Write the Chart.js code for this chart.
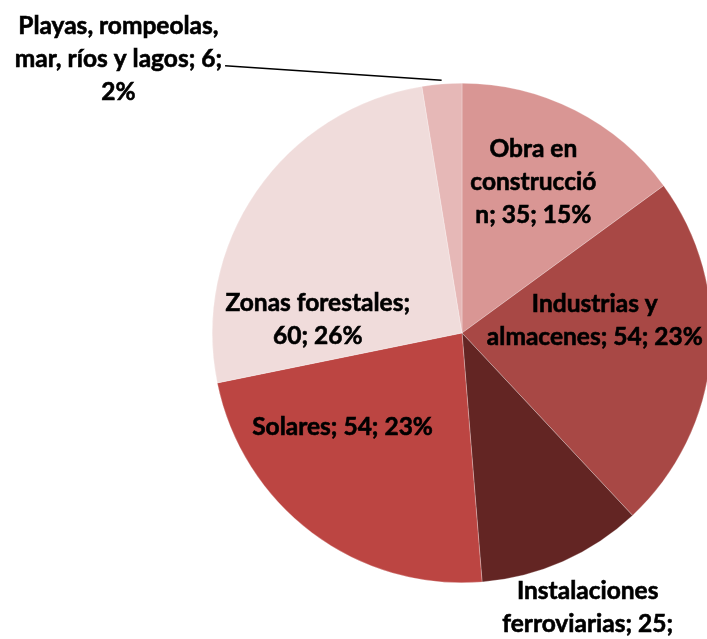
<!DOCTYPE html>
<html>
<head>
<meta charset="utf-8">
<script src="https://cdn.jsdelivr.net/npm/chart.js@4"></script>
<style>
  html, body { margin: 0; padding: 0; background: #fff; overflow: hidden; width: 707px; height: 639px; }
  #wrap { position: absolute; left: 0; top: 0; width: 924px; height: 666px; }
</style>
</head>
<body>
<div id="wrap"><canvas id="myChart" width="924" height="666"></canvas></div>
<script>
// datos
const categorias = ['Obra en construcción', 'Industrias y almacenes', 'Instalaciones ferroviarias', 'Solares', 'Zonas forestales', 'Playas, rompeolas, mar, ríos y lagos'];
const valores = [35, 54, 25, 54, 60, 6];
const porcentajes = ['15%', '23%', '11%', '23%', '26%', '2%'];
const colores = ['#D99694', '#A84845', '#632523', '#BC4542', '#F0DCDB', '#E6B8B7'];

// lineas de cada etiqueta (como en el original)
const etiquetas = [
   ['Obra en', 'construcció', 'n; 35; 15%'],
   ['Industrias y', 'almacenes; 54; 23%'],
   ['Instalaciones', 'ferroviarias; 25;', '11%'],
   ['Solares; 54; 23%'],
   ['Zonas forestales;', '60; 26%'],
   ['Playas, rompeolas,', 'mar, ríos y lagos; 6;', '2%']
];
// posicion de la etiqueta: radio relativo y giro (grados)
const posEtiq = [
   { r: 0.67, giro: -1.7 },
   { r: 0.534, giro: -10.6 },
   { r: 1.27, giro: 0.5 },
   { r: 0.61, giro: 14.7 },
   { r: 0.58, giro: -29.4 },
   { r: 1.76, giro: -46.8, linea: 1 }
];

const fuente = 'bold 24.5px Lato, "Open Sans", sans-serif';
const altoLinea = 33;

const etiquetasPlugin = {
   id: 'etiquetas',
   afterDatasetsDraw(chart) {
      const ctx = chart.ctx;
      const arcos = chart.getDatasetMeta(0).data;
      ctx.save();
      ctx.font = fuente;
      ctx.fillStyle = '#000';
      ctx.strokeStyle = '#000';
      ctx.lineWidth = 0.6;
      ctx.textAlign = 'center';
      ctx.textBaseline = 'middle';
      arcos.forEach((arco, i) => {
         const p = arco.getProps(['x', 'y', 'startAngle', 'endAngle', 'outerRadius'], true);
         const medio = (p.startAngle + p.endAngle) / 2;
         const ang = medio + posEtiq[i].giro * Math.PI / 180;
         const cx = p.x + Math.cos(ang) * p.outerRadius * posEtiq[i].r;
         const cy = p.y + Math.sin(ang) * p.outerRadius * posEtiq[i].r;
         const lineas = etiquetas[i];
         const y0 = cy - (lineas.length - 1) * altoLinea / 2;
         lineas.forEach((t, k) => {
            ctx.fillText(t, cx, y0 + k * altoLinea);
            ctx.strokeText(t, cx, y0 + k * altoLinea);
         });
         if (posEtiq[i].linea !== undefined) {
            const k = posEtiq[i].linea;
            const w = ctx.measureText(lineas[k]).width;
            const x1 = cx + w / 2 + 3;
            const y1 = y0 + k * altoLinea + 7;
            const x2 = p.x + Math.cos(medio) * p.outerRadius * 1.015;
            const y2 = p.y + Math.sin(medio) * p.outerRadius * 1.015;
            ctx.lineWidth = 1.5;
            ctx.beginPath();
            ctx.moveTo(x1, y1);
            ctx.lineTo(x2, y2);
            ctx.stroke();
         }
      });
      ctx.restore();
   }
};

var canva = document.getElementById('myChart');
var myChart = new Chart(canva, {
   type: 'pie',
   data: {
      labels: categorias,
      datasets: [{
         data: valores,
         backgroundColor: colores,
         borderColor: 'rgba(255,255,255,0.5)',
         borderWidth: 0.5,
         hoverOffset: 0
      }]
   },
   options: {
      responsive: false,
      animation: false,
      layout: { padding: { left: 212, right: 212, top: 83, bottom: 83 } },
      plugins: {
         legend: { display: false },
         tooltip: { enabled: false }
      }
   },
   plugins: [etiquetasPlugin]
});
</script>
</body>
</html>
